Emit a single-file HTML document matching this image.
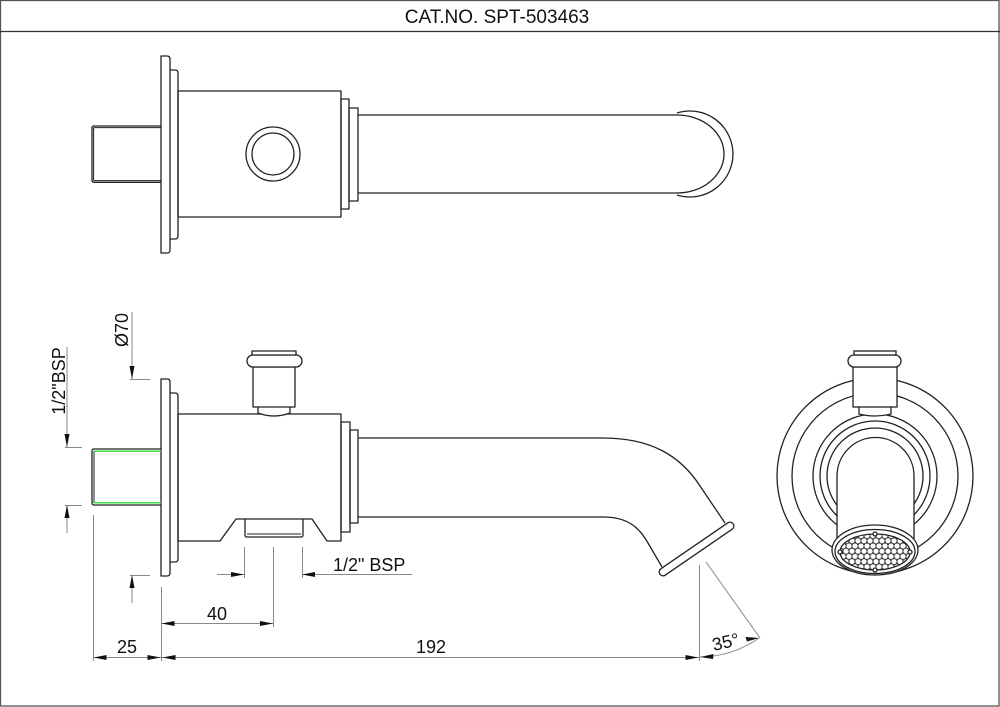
<!DOCTYPE html>
<html>
<head>
<meta charset="utf-8">
<style>
html,body{margin:0;padding:0;background:#fff;}
svg{display:block;}
text{font-family:"Liberation Sans",Arial,sans-serif;fill:#111;}
</style>
</head>
<body>
<svg width="1000" height="707" viewBox="0 0 1000 707" xmlns="http://www.w3.org/2000/svg">
<defs>
  <pattern id="hex" width="6" height="10.4" patternUnits="userSpaceOnUse">
    <circle cx="0" cy="0" r="3" fill="none" stroke="#222" stroke-width="0.7"/>
    <circle cx="6" cy="0" r="3" fill="none" stroke="#222" stroke-width="0.7"/>
    <circle cx="3" cy="5.2" r="3" fill="none" stroke="#222" stroke-width="0.7"/>
    <circle cx="0" cy="10.4" r="3" fill="none" stroke="#222" stroke-width="0.7"/>
    <circle cx="6" cy="10.4" r="3" fill="none" stroke="#222" stroke-width="0.7"/>
  </pattern>
</defs>

<!-- frame -->
<rect x="0.5" y="0.5" width="998.5" height="705.5" fill="none" stroke="#555" stroke-width="1.3"/>
<line x1="0" y1="31.5" x2="1000" y2="31.5" stroke="#333" stroke-width="1.3"/>
<text x="497" y="23" font-size="19" text-anchor="middle">CAT.NO. SPT-503463</text>

<g fill="none" stroke="#222" stroke-width="1.3" stroke-linejoin="round">
  <!-- ===== TOP VIEW ===== -->
  <path d="M161,182.3 L94,182.3 Q92,182.3 92,180 L92,128 Q92,126 94,126 L161,126" />
  <line x1="93.6" y1="127.6" x2="161" y2="127.6" stroke-width="1"/>
  <line x1="93.6" y1="180.6" x2="161" y2="180.6" stroke-width="1"/>
  <line x1="93.6" y1="127.6" x2="93.6" y2="180.6" stroke-width="1"/>
  <path d="M161,56 L167,56 Q170,56 170,59 L170,250 Q170,253 167,253 L161,253 Z"/>
  <path d="M170,70 L175,70 Q178,70 178,73 L178,236 Q178,239 175,239 L170,239"/>
  <rect x="178" y="91" width="163" height="126"/>
  <circle cx="273" cy="154" r="27"/>
  <circle cx="273" cy="154" r="21"/>
  <rect x="341" y="99" width="8" height="110"/>
  <rect x="349" y="108" width="9" height="93"/>
  <path d="M358,115 L677,115"/>
  <path d="M358,193 L677,193"/>
  <path d="M677,115 A47,39 0 0 1 677,193"/>
  <path d="M677,113 A43,43 0 1 1 677,195"/>

  <!-- ===== SIDE VIEW ===== -->
  <path d="M161,505 L94,505 Q92,505 92,503 L92,451 Q92,449 94,449 L161,449"/>
  <line x1="94" y1="451" x2="94" y2="503" stroke-width="1"/>
  <path d="M161,379 L167,379 Q170,379 170,382 L170,573 Q170,576 167,576 L161,576 Z"/>
  <path d="M170,393 L175,393 Q178,393 178,396 L178,559 Q178,562 175,562 L170,562"/>
  <!-- body with bottom port cutout -->
  <path d="M178,414 L341,414 L341,541 L327,541 L312,519 L236,519 L220,541 L178,541 Z"/>
  <path d="M245,519 L245,535 Q245,537 247,537 L301,537 Q303,537 303,535 L303,519"/>
  <line x1="247" y1="534" x2="301" y2="534" stroke-width="1"/>
  <!-- top nozzle -->
  <path d="M258,407 L258,413 Q274,419 290,413 L290,407" fill="#fff"/>
  <rect x="253" y="367" width="42" height="40" fill="#fff"/>
  <rect x="247" y="355" width="55" height="12" rx="6" fill="#fff"/>
  <rect x="252" y="351" width="44" height="4" fill="#fff"/>
  <!-- right steps -->
  <rect x="341" y="422" width="9" height="110"/>
  <rect x="350" y="430" width="8" height="93"/>
  <!-- spout -->
  <path d="M358,438 L603,438 C650,438 680,455 700,486 L725,523"/>
  <path d="M358,517 L603,517 C625,517 638,525 648,543 L662,567"/>
</g>
<!-- green thread lines -->
<line x1="94" y1="451.2" x2="161" y2="451.2" stroke="#2fd82f" stroke-width="1.4"/>
<line x1="94" y1="502.8" x2="161" y2="502.8" stroke="#2fd82f" stroke-width="1.4"/>
<!-- capsule end -->
<line x1="663" y1="572" x2="730" y2="526" stroke="#222" stroke-width="9" stroke-linecap="round"/>
<line x1="663" y1="572" x2="730" y2="526" stroke="#fff" stroke-width="6.4" stroke-linecap="round"/>

<!-- ===== END VIEW ===== -->
<g fill="none" stroke="#222" stroke-width="1.3">
  <circle cx="875" cy="476" r="98"/>
  <circle cx="875" cy="476" r="83"/>
  <circle cx="875" cy="476" r="62"/>
  <circle cx="875" cy="476" r="55"/>
  <circle cx="875" cy="476" r="48"/>
  <path d="M837,555 L837,476 A38.5,38.5 0 0 1 914,476 L914,555" fill="#fff"/>
  <path d="M859,407 L859,414 Q875,418 891,414 L891,407" fill="#fff"/>
  <rect x="853" y="367" width="44" height="40" fill="#fff"/>
  <rect x="848" y="355" width="53" height="12" rx="6" fill="#fff"/>
  <rect x="854" y="351" width="42" height="4" fill="#fff"/>
  <ellipse cx="875" cy="550" rx="43" ry="25" fill="#fff"/>
  <ellipse cx="875" cy="551.5" rx="40" ry="22"/>
  <ellipse cx="875" cy="552" rx="35" ry="18" fill="url(#hex)"/>
  <circle cx="875" cy="534" r="2" fill="#fff"/>
  <circle cx="875" cy="570" r="2" fill="#fff"/>
  <circle cx="840" cy="552" r="2" fill="#fff"/>
  <circle cx="910" cy="552" r="2" fill="#fff"/>
</g>

<!-- ===== DIMENSIONS ===== -->
<g stroke="#888" stroke-width="1" fill="none">
  <!-- Ø70 -->
  <line x1="132" y1="312" x2="132" y2="379"/>
  <line x1="130" y1="379.5" x2="150" y2="379.5"/>
  <line x1="132" y1="575" x2="132" y2="603"/>
  <line x1="130" y1="575.5" x2="150" y2="575.5"/>
  <!-- 1/2"BSP left -->
  <line x1="67" y1="347" x2="67" y2="447"/>
  <line x1="65" y1="447.5" x2="82" y2="447.5"/>
  <line x1="67" y1="505" x2="67" y2="533"/>
  <line x1="65" y1="505.5" x2="82" y2="505.5"/>
  <!-- port 1/2" BSP -->
  <line x1="244.5" y1="547" x2="244.5" y2="578"/>
  <line x1="302.5" y1="547" x2="302.5" y2="578"/>
  <line x1="273.5" y1="547" x2="273.5" y2="627"/>
  <line x1="217" y1="574.5" x2="244" y2="574.5"/>
  <line x1="302" y1="574.5" x2="412" y2="574.5"/>
  <!-- extension verticals -->
  <line x1="93.5" y1="515" x2="93.5" y2="661"/>
  <line x1="161.5" y1="587" x2="161.5" y2="661"/>
  <line x1="699.5" y1="565" x2="699.5" y2="661"/>
  <!-- 40 -->
  <line x1="161" y1="623.5" x2="273" y2="623.5"/>
  <!-- 25 / 192 -->
  <line x1="93" y1="657.5" x2="699" y2="657.5"/>
  <!-- 35° -->
  <line x1="706" y1="562" x2="760" y2="638"/>
  <path d="M699.5,657 A105,105 0 0 0 759,638"/>
</g>
<g fill="#111">
  <polygon points="132,379 129.5,366 134.5,366"/>
  <polygon points="132,575 129.5,588 134.5,588"/>
  <polygon points="67,447 64.5,434 69.5,434"/>
  <polygon points="67,505 64.5,518 69.5,518"/>
  <polygon points="244,574.5 231,572 231,577"/>
  <polygon points="302,574.5 315,572 315,577"/>
  <polygon points="161.5,623.5 174.5,621 174.5,626"/>
  <polygon points="273,623.5 260,621 260,626"/>
  <polygon points="93.5,657.5 106.5,655 106.5,660"/>
  <polygon points="160.5,657.5 147.5,655 147.5,660"/>
  <polygon points="162.5,657.5 175.5,655 175.5,660"/>
  <polygon points="698.5,657.5 685.5,655 685.5,660"/>
  <polygon points="700.5,657 713.5,654 713,659"/>
  <polygon points="759,638 747,641.5 745.5,637"/>
</g>
<text x="333" y="571" font-size="18">1/2" BSP</text>
<text x="217" y="620" font-size="18" text-anchor="middle">40</text>
<text x="127" y="653" font-size="18" text-anchor="middle">25</text>
<text x="431" y="653" font-size="18" text-anchor="middle">192</text>
<text transform="translate(727,648) rotate(-13)" font-size="18" text-anchor="middle">35°</text>
<text transform="translate(128,330) rotate(-90)" font-size="18" text-anchor="middle">Ø70</text>
<text transform="translate(65,381) rotate(-90)" font-size="18" text-anchor="middle">1/2"BSP</text>
</svg>
</body>
</html>
